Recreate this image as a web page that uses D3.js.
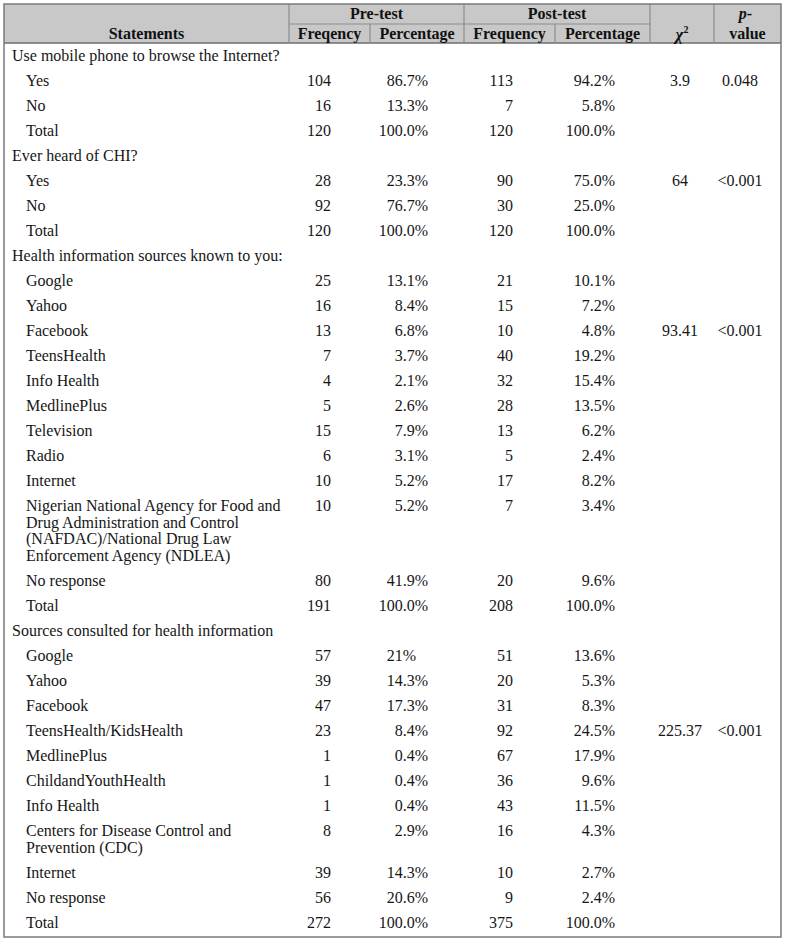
<!DOCTYPE html>
<html><head><meta charset="utf-8">
<script src="https://cdn.jsdelivr.net/npm/d3@7"></script>
<style>body{margin:0;background:#fff}</style>
</head><body><svg id="c" width="785" height="942"></svg>
<script>
// ---------- data ----------
const groupTitles = [
  "Use mobile phone to browse the Internet?",
  "Ever heard of CHI?",
  "Health information sources known to you:",
  "Sources consulted for health information"
];
const groupItems = [
  ["Yes", "No", "Total"],
  ["Yes", "No", "Total"],
  ["Google", "Yahoo", "Facebook", "TeensHealth", "Info Health", "MedlinePlus", "Television", "Radio", "Internet",
   "Nigerian National Agency for Food and\nDrug Administration and Control\n(NAFDAC)/National Drug Law\nEnforcement Agency (NDLEA)",
   "No response", "Total"],
  ["Google", "Yahoo", "Facebook", "TeensHealth/KidsHealth", "MedlinePlus", "ChildandYouthHealth", "Info Health",
   "Centers for Disease Control and\nPrevention (CDC)", "Internet", "No response", "Total"]
];
const preFreq = [[104, 16, 120], [28, 92, 120], [25, 16, 13, 7, 4, 5, 15, 6, 10, 10, 80, 191], [57, 39, 47, 23, 1, 1, 1, 8, 39, 56, 272]];
const prePct = [["86.7%", "13.3%", "100.0%"], ["23.3%", "76.7%", "100.0%"],
  ["13.1%", "8.4%", "6.8%", "3.7%", "2.1%", "2.6%", "7.9%", "3.1%", "5.2%", "5.2%", "41.9%", "100.0%"],
  ["21%", "14.3%", "17.3%", "8.4%", "0.4%", "0.4%", "0.4%", "2.9%", "14.3%", "20.6%", "100.0%"]];
const postFreq = [[113, 7, 120], [90, 30, 120], [21, 15, 10, 40, 32, 28, 13, 5, 17, 7, 20, 208], [51, 20, 31, 92, 67, 36, 43, 16, 10, 9, 375]];
const postPct = [["94.2%", "5.8%", "100.0%"], ["75.0%", "25.0%", "100.0%"],
  ["10.1%", "7.2%", "4.8%", "19.2%", "15.4%", "13.5%", "6.2%", "2.4%", "8.2%", "3.4%", "9.6%", "100.0%"],
  ["13.6%", "5.3%", "8.3%", "24.5%", "17.9%", "9.6%", "11.5%", "4.3%", "2.7%", "2.4%", "100.0%"]];
const chiSquare = ["3.9", "64", "93.41", "225.37"];
const pValues = ["0.048", "<0.001", "<0.001", "<0.001"];
const statRowIndex = [0, 0, 2, 3];
const spanHeaders = ["Pre-test", "Post-test"];
const subHeaders = ["Freqency", "Percentage", "Frequency", "Percentage"];

// ---------- layout ----------
const W = 785, H = 942;
const FONT = "'Liberation Serif', 'Times New Roman', serif";
const FS = 16;
const tTop = 4, tLeft = 4, tRight = 781, tBottom = 937;
const hMid = 24, hBot = 43;
const colKeys = ["stmt", "preF", "preP", "postF", "postP", "chi", "p", "end"];
const colEdge = d3.scaleOrdinal().domain(colKeys).range([4, 289, 370, 464, 555, 650, 714, 781]);
const rowPitch = 25, lineH = 16.7;

const svg = d3.select("#c");
svg.append("rect").attr("width", W).attr("height", H).attr("fill", "#fff");

// header background
svg.append("rect").attr("x", tLeft).attr("y", tTop).attr("width", tRight - tLeft).attr("height", hBot - tTop)
  .attr("fill", "#c8c8c8");

const lineColor = "#8c8c8c";
const g = svg.append("g");
g.append("line").attr("x1", colEdge("preF")).attr("x2", colEdge("chi")).attr("y1", hMid).attr("y2", hMid)
  .attr("stroke", lineColor).attr("stroke-width", 1.2);
g.append("line").attr("x1", tLeft).attr("x2", tRight).attr("y1", hBot).attr("y2", hBot)
  .attr("stroke", "#6e6e6e").attr("stroke-width", 1.3);
["preF", "postF", "chi", "p"].forEach(k => {
  g.append("line").attr("x1", colEdge(k)).attr("x2", colEdge(k)).attr("y1", tTop).attr("y2", hBot)
    .attr("stroke", lineColor).attr("stroke-width", 1.2);
});
["preP", "postP"].forEach(k => {
  g.append("line").attr("x1", colEdge(k)).attr("x2", colEdge(k)).attr("y1", hMid).attr("y2", hBot)
    .attr("stroke", lineColor).attr("stroke-width", 1.2);
});

// header text
const hdr = svg.append("g").attr("font-family", FONT).attr("font-size", FS).attr("font-weight", "bold")
  .attr("fill", "#111").attr("text-anchor", "middle");
const mid = (a, b) => (colEdge(a) + colEdge(b)) / 2;
hdr.append("text").attr("x", mid("stmt", "preF")).attr("y", 39).text("Statements");
hdr.append("text").attr("x", mid("preF", "postF")).attr("y", 19).text(spanHeaders[0]);
hdr.append("text").attr("x", mid("postF", "chi")).attr("y", 19).text(spanHeaders[1]);
[["preF", "preP"], ["preP", "postF"], ["postF", "postP"], ["postP", "chi"]].forEach((pr, i) => {
  hdr.append("text").attr("x", mid(pr[0], pr[1])).attr("y", 39).text(subHeaders[i]);
});
const chiT = hdr.append("text").attr("x", mid("chi", "p")).attr("y", 40);
chiT.append("tspan").attr("font-style", "italic").attr("font-size", 17).text("\u03C7");
chiT.append("tspan").attr("font-size", 10).attr("dy", -7).text("2");
const pT = hdr.append("text").attr("x", mid("p", "end") - 2).attr("y", 19);
pT.append("tspan").attr("font-style", "italic").text("p");
pT.append("tspan").text("-");
hdr.append("text").attr("x", mid("p", "end")).attr("y", 39).text("value");

// ---------- rows ----------
const rows = [];
groupTitles.forEach((t, gi) => {
  rows.push({label: t, level: 0});
  groupItems[gi].forEach((it, ii) => {
    rows.push({
      label: it, level: 1,
      preF: preFreq[gi][ii], preP: prePct[gi][ii],
      postF: postFreq[gi][ii], postP: postPct[gi][ii],
      chi: ii === statRowIndex[gi] ? chiSquare[gi] : null,
      p: ii === statRowIndex[gi] ? pValues[gi] : null
    });
  });
});
let yCur = hBot;
rows.forEach(r => {
  r.lines = r.label.split("\n");
  r.y = yCur;
  r.h = rowPitch + lineH * (r.lines.length - 1);
  yCur += r.h;
});

const body = svg.append("g").attr("font-family", FONT).attr("font-size", FS).attr("fill", "#161616");

const probe = body.append("text").text(".0%");
const fracW = probe.node().getComputedTextLength();
probe.remove();

const preFRight = 331, prePRight = 428, postFRight = 513, postPRight = 615, chiCenter = 680, pCenter = 740;

rows.forEach(r => {
  const base = r.y + 18;
  const lx = r.level === 0 ? 12 : 26;
  const t = body.append("text").attr("x", lx).attr("y", base);
  r.lines.forEach((ln, i) => {
    t.append("tspan").attr("x", lx).attr("dy", i === 0 ? 0 : lineH).text(ln);
  });
  if (r.level === 1) {
    body.append("text").attr("x", preFRight).attr("y", base).attr("text-anchor", "end").text(r.preF);
    body.append("text").attr("x", postFRight).attr("y", base).attr("text-anchor", "end").text(r.postF);
    [[r.preP, prePRight], [r.postP, postPRight]].forEach(([v, rx]) => {
      const dec = rx - fracW;
      const m = v.match(/^(\d+)(.*)$/);
      body.append("text").attr("x", dec).attr("y", base).attr("text-anchor", "end").text(m[1]);
      body.append("text").attr("x", dec).attr("y", base).attr("text-anchor", "start").text(m[2]);
    });
    if (r.chi) {
      body.append("text").attr("x", chiCenter).attr("y", base).attr("text-anchor", "middle").text(r.chi);
      body.append("text").attr("x", pCenter).attr("y", base).attr("text-anchor", "middle").text(r.p);
    }
  }
});

svg.append("rect").attr("x", tLeft).attr("y", tTop).attr("width", tRight - tLeft).attr("height", tBottom - tTop)
  .attr("fill", "none").attr("stroke", "#7a7a7a").attr("stroke-width", 1.5);
</script>
</body></html>
